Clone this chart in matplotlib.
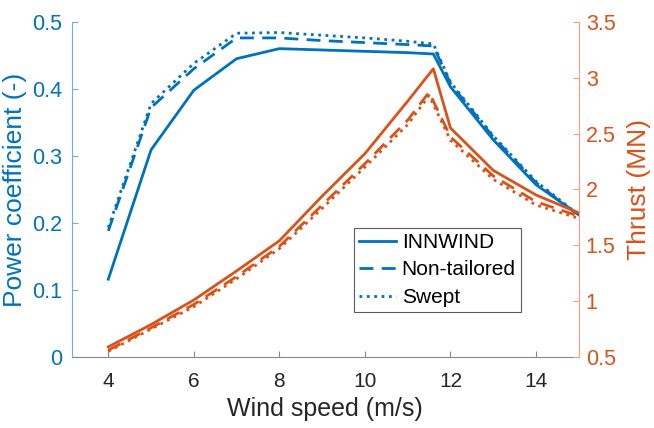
import matplotlib
matplotlib.use("Agg")
import matplotlib.pyplot as plt
from matplotlib.lines import Line2D

plt.rcParams['font.family'] = ['Liberation Sans', 'DejaVu Sans']

wind = [4, 5, 6, 7, 8, 9, 10, 11, 11.6, 12, 13, 14, 15]
wind_peak = [4, 5, 6, 7, 8, 9, 10, 11, 11.5, 12, 13, 14, 15]

cp_innwind = [0.116, 0.309, 0.398, 0.445, 0.460, 0.458, 0.456, 0.454, 0.452, 0.403, 0.324, 0.257, 0.212]
cp_nontail = [0.188, 0.372, 0.430, 0.476, 0.476, 0.472, 0.469, 0.466, 0.464, 0.408, 0.328, 0.260, 0.211]
cp_swept = [0.193, 0.378, 0.438, 0.483, 0.484, 0.480, 0.476, 0.471, 0.467, 0.410, 0.330, 0.262, 0.212]

thr_innwind = [0.59, 0.79, 1.01, 1.27, 1.54, 1.94, 2.32, 2.79, 3.08, 2.55, 2.17, 1.95, 1.79]
thr_nontail = [0.56, 0.76, 0.97, 1.22, 1.49, 1.86, 2.23, 2.62, 2.87, 2.47, 2.12, 1.89, 1.76]
thr_swept = [0.55, 0.75, 0.95, 1.20, 1.47, 1.83, 2.20, 2.58, 2.84, 2.44, 2.09, 1.86, 1.74]

labels = ['INNWIND', 'Non-tailored', 'Swept']

blue = '#0072BD'
orange = '#D95319'

fig = plt.figure(figsize=(6.54, 4.28), dpi=100)
ax = fig.add_axes([0.110, 0.166, 0.775, 0.783])
ax2 = ax.twinx()

lw = 2.0
ax.plot(wind, cp_innwind, '-', color=blue, lw=lw)
ax.plot(wind, cp_nontail, '--', color=blue, lw=lw, dashes=(5, 3))
ax.plot(wind, cp_swept, ':', color=blue, lw=lw)

ax2.plot(wind, thr_innwind, '-', color=orange, lw=lw)
ax2.plot(wind_peak, thr_nontail, '--', color=orange, lw=lw, dashes=(5, 3))
ax2.plot(wind_peak, thr_swept, ':', color=orange, lw=lw)

ax.set_xlim(3.15, 15)
ax.set_ylim(0, 0.5)
ax2.set_ylim(0.5, 3.5)
ax.set_xticks([4, 6, 8, 10, 12, 14])
ax.set_yticks([0, 0.1, 0.2, 0.3, 0.4, 0.5])
ax.set_yticklabels(['0', '0.1', '0.2', '0.3', '0.4', '0.5'])
ax2.set_yticks([0.5, 1, 1.5, 2, 2.5, 3, 3.5])
ax2.set_yticklabels(['0.5', '1', '1.5', '2', '2.5', '3', '3.5'])

for a in (ax, ax2):
    a.spines['top'].set_visible(False)
ax.spines['right'].set_visible(False)
ax2.spines['left'].set_visible(False)
ax2.spines['bottom'].set_visible(False)
ax.spines['left'].set_color('#70AEDC')
ax2.spines['right'].set_color('#EFA07E')
ax.spines['bottom'].set_color('#888888')

ax.tick_params(axis='x', direction='in', colors='#888888', labelcolor='#262626', labelsize=15, length=4, pad=11)
ax.tick_params(axis='y', direction='in', colors='#70AEDC', labelcolor=blue, labelsize=15.5, length=4, pad=7)
ax2.tick_params(axis='y', direction='in', colors='#EFA07E', labelcolor=orange, labelsize=15.5, length=4, pad=5)

ax.set_xlabel('Wind speed (m/s)', fontsize=18, color='#262626', labelpad=4)
ax.set_ylabel('Power coefficient (-)', fontsize=19, color=blue, labelpad=4)
ax2.set_ylabel('Thrust (MN)', fontsize=19, color=orange, labelpad=8)

handles = [Line2D([], [], color=blue, lw=lw, ls='-'),
           Line2D([], [], color=blue, lw=lw, ls='--', dashes=(5, 3)),
           Line2D([], [], color=blue, lw=lw, ls=':')]
leg = ax2.legend(handles, labels, loc='upper left', bbox_to_anchor=(0.556, 0.385),
                 fontsize=15, frameon=True, fancybox=False, edgecolor='#333333',
                 handlelength=1.8, handletextpad=0.25, borderpad=0.25, labelspacing=0.4,
                 borderaxespad=0)
leg.get_frame().set_linewidth(0.8)

fig.savefig('out.png', dpi=100)
